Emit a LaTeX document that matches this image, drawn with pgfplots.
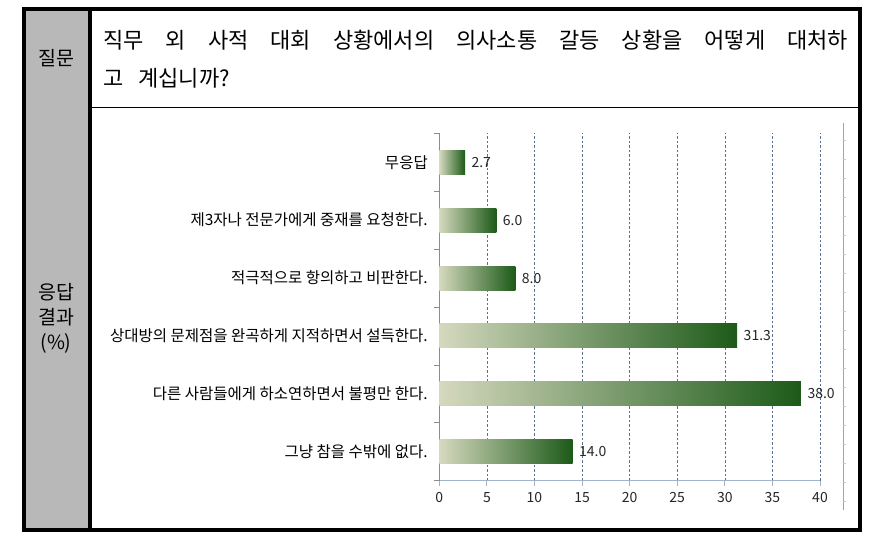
\documentclass[border=0pt]{standalone}
\usepackage{fontspec}
\setmainfont{Noto Sans CJK KR}
\usepackage{pgfplots}
\pgfplotsset{compat=1.18}
\definecolor{colgray}{HTML}{B8B8B8}
\definecolor{barL}{HTML}{D5D9BE}
\definecolor{barM}{HTML}{8FA262}
\definecolor{barR}{HTML}{1C5A18}
\definecolor{gridc}{HTML}{5B7090}
\definecolor{xaxc}{HTML}{9FB3CC}
\definecolor{yaxc}{HTML}{8C8C8C}
\begin{document}
\begin{tikzpicture}[x=1pt,y=-1pt]
\path[fill=white] (0,0) rectangle (882,551);
% table frame
\fill[colgray] (24,9) rectangle (90,530);
\draw[line width=1pt] (90,107) -- (860,107);
\draw[line width=4pt] (90,9) -- (90,530);
\draw[line width=4pt] (24,9) rectangle (860,529.5);
% faint chart-area border
\draw[yaxc!80] (843,123) -- (843,510);
\foreach \t in {140,159,...,505} \draw[yaxc!50] (843,\t) -- (846,\t);
% left column labels
\node[font=\fontsize{19.5}{22}\selectfont] at (56,58) {질문};
\node[font=\fontsize{19.5}{25}\selectfont, align=center] at (56,318) {응답\\결과\\(\%)};
% question
\node[anchor=west, inner sep=0pt, font=\fontsize{22}{26}\selectfont] at (103,40)
  {\makebox[745pt][s]{직무 외 사적 대회 상황에서의 의사소통 갈등 상황을 어떻게 대처하}};
\node[anchor=west, inner sep=0pt, font=\fontsize{22}{26}\selectfont] at (103,78)
  {고\hspace{15pt}계십니까?};
\pgfplotsset{barstyle/.style={draw=none, left color=barL, middle color=barM, right color=barR, bar shift=0pt}}
\begin{axis}[
  at={(439.3pt,-480.7pt)}, anchor=south west,
  scale only axis, width=380.7pt, height=347.4pt,
  xmin=0, xmax=40, ymin=-0.5, ymax=5.5,
  xbar, bar width=24pt,
  xtick={0,5,...,40},
  ytick={0,1,2,3,4,5},
  yticklabels={그냥 참을 수밖에 없다., 다른 사람들에게 하소연하면서 불평만 한다., 상대방의 문제점을 완곡하게 지적하면서 설득한다., 적극적으로 항의하고 비판한다., 제3자나 전문가에게 중재를 요청한다., 무응답},
  minor ytick={-0.5,0.5,...,5.5},
  axis x line*=bottom, axis y line*=left,
  x axis line style={draw=xaxc, line width=0.8pt},
  y axis line style={draw=yaxc, line width=0.8pt},
  tick align=outside,
  major tick length=5pt, minor tick length=5pt,
  major x tick style={draw=xaxc, line width=0.8pt},
  major y tick style={draw=none},
  minor y tick style={draw=yaxc, line width=0.8pt},
  xmajorgrids,
  major grid style={draw=gridc, line width=0.6pt, dash pattern=on 2.5pt off 2pt},
  yticklabel style={font=\fontsize{15.5}{17}\selectfont, text=black, xshift=-3pt},
  xticklabel style={font=\fontsize{14}{16}\selectfont, text=black!85, yshift=-3pt},
  /pgf/number format/assume math mode=true,
  nodes near coords={\pgfmathprintnumber[fixed,fixed zerofill,precision=1,assume math mode=true]{\pgfplotspointmeta}},
  nodes near coords style={font=\fontsize{14}{16}\selectfont, text=black!85, anchor=west, xshift=3pt},
  clip=false,
]
\addplot[barstyle] coordinates {(14.0,0)};
\addplot[barstyle] coordinates {(38.0,1)};
\addplot[barstyle] coordinates {(31.3,2)};
\addplot[barstyle] coordinates {(8.0,3)};
\addplot[barstyle] coordinates {(6.0,4)};
\addplot[barstyle] coordinates {(2.7,5)};
\end{axis}
\end{tikzpicture}
\end{document}
